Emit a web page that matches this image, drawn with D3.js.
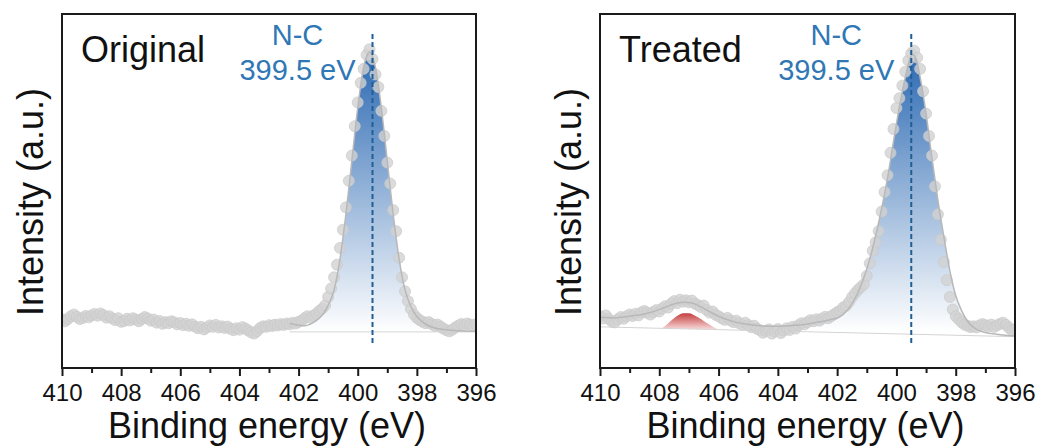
<!DOCTYPE html>
<html>
<head>
<meta charset="utf-8">
<script src="https://cdn.jsdelivr.net/npm/d3@7"></script>
<style>
body { margin: 0; background: #fff; }
text { font-family: "Liberation Sans", Arial, sans-serif; }
</style>
</head>
<body>
<div id="chart"></div>
<script>
// energy grid of the measured points (eV), 410 -> 396
var energyStart = 410, energyStep = 0.1;
var majorTicks = [410, 408, 406, 404, 402, 400, 398, 396];
var minorTicks = [409, 407, 405, 403, 401, 399, 397];

// measured intensities (a.u.), one per 0.1 eV step
var originalCounts = [
  4.5, 3.8, 4.6, 5.6, 6.2, 5.4, 4.6, 5.0, 5.7, 5.2,
  5.9, 6.4, 5.8, 6.6, 6.0, 5.1, 5.6, 4.8, 4.2, 4.9,
  3.6, 3.9, 4.7, 4.1, 4.9, 4.4, 3.8, 4.6, 5.3, 4.8,
  4.0, 4.4, 3.3, 3.9, 2.9, 3.5, 3.1, 3.8, 3.4, 2.7,
  3.2, 2.4, 2.9, 2.2, 2.7, 1.9, 1.3, 1.8, 0.9, 1.6,
  2.3, 1.8, 2.5, 1.6, 2.0, 1.4, 1.9, 1.1, 0.6, 1.3,
  0.8, 1.7, 1.2, 0.5, -0.2, -0.6, 0.3, 1.4, 2.0, 1.8,
  2.4, 2.1, 2.6, 2.3, 2.8, 2.5, 3.0, 2.7, 3.3, 3.0,
  3.6, 4.0, 4.9, 5.6, 5.0, 5.8, 6.5, 7.5, 8.3, 9.5,
  12.5, 15.5, 19.5, 24, 30, 36.5, 44.5, 54, 63, 73.5,
  82, 89, 94, 99, 101, 97.5, 92, 87.5, 79, 70,
  60.5, 53, 43.5, 36, 26.5, 19.5, 14.5, 11, 8.2, 6.2,
  5.0, 4.2, 3.6, 3.1, 3.5, 2.8, 2.2, 2.6, 1.9, 1.2,
  0.6, 0.2, 0.8, 1.6, 2.2, 2.8, 2.4, 3.0, 2.6, 2.2,
  2.7
];

var treatedCounts = [
  5.6, 4.8, 5.9, 4.6, 3.7, 3.4, 4.5, 5.3, 4.7, 5.6,
  6.2, 5.7, 6.5, 5.9, 7.0, 7.5, 6.8, 6.2, 7.1, 7.8,
  7.3, 8.4, 9.2, 8.7, 10.1, 11.0, 10.3, 11.5, 10.8, 11.3,
  10.6, 11.2, 10.1, 9.6, 8.9, 9.4, 7.8, 6.9, 7.3, 6.1,
  5.6, 4.9, 4.3, 5.0, 4.1, 3.5, 4.0, 3.1, 2.6, 3.3,
  2.4, 1.7, 2.2, 1.1, 0.6, -0.3, 0.4, 0.9, -0.6, 0.2,
  1.0, -0.4, 0.5, 1.3, 0.7, 1.8, 1.2, 2.4, 3.1, 2.7,
  3.5, 4.2, 3.8, 4.5, 4.0, 4.8, 5.4, 4.9, 5.6, 6.3,
  7.0, 7.6, 8.7, 9.3, 10.6, 12.4, 13.8, 15.0, 16.0, 17.0,
  20, 24.5, 29, 32, 36, 43, 50, 56, 64, 72.5,
  80, 83.5, 88, 93, 97, 99.5, 100.5, 98, 94, 86,
  78, 70, 63, 52, 42, 33, 25, 18.5, 12.5, 8.0,
  5.6, 4.5, 3.4, 2.6, 2.2, 1.7, 2.0, 1.6, 2.3, 2.8,
  2.4, 1.9, 2.6, 1.8, 2.4, 2.9, 3.3, 2.5, 1.4, 0.6,
  0.9
];

// fitted envelopes [eV, a.u.]
var originalFit = [
  [402.3, 3.0], [402.0, 2.4], [401.8, 2.2], [401.6, 2.8], [401.4, 4.0], [401.2, 6.0],
  [401.0, 9.5], [400.8, 15], [400.6, 26], [400.4, 42], [400.2, 61], [400.0, 80],
  [399.8, 94.5], [399.6, 100], [399.4, 94.5], [399.2, 80], [399.0, 61], [398.8, 42],
  [398.6, 26], [398.4, 15], [398.2, 9], [398.0, 5.5], [397.8, 3.5], [397.6, 2.2],
  [397.2, 1.0], [396.6, 0.4], [396.0, 0.2]
];
var originalBackground = [[402.3, 0], [396, 0]];

var treatedFit = [
  [410, 5.2], [409.5, 5.0], [409, 5.6], [408.5, 6.4], [408.1, 7.6], [407.8, 8.8],
  [407.5, 10.0], [407.2, 10.6], [406.9, 10.3], [406.6, 9.0], [406.3, 7.2], [406.0, 5.6],
  [405.6, 4.0], [405.2, 3.0], [404.7, 2.3], [404.2, 2.0], [403.6, 2.2], [403.0, 2.8],
  [402.6, 3.6], [402.2, 4.4], [401.9, 5.5], [401.6, 8.5], [401.3, 14], [401.0, 22.5],
  [400.8, 30], [400.5, 44], [400.3, 55], [400.1, 68], [399.9, 80.5], [399.7, 91],
  [399.55, 97.5], [399.45, 99], [399.35, 98], [399.2, 91], [399.0, 78], [398.8, 62],
  [398.6, 47], [398.4, 34], [398.2, 22], [398.0, 13], [397.8, 7.5], [397.6, 3.8],
  [397.4, 1.6], [397.2, 0.4], [396.8, -0.6], [396.4, -1.1], [396.0, -1.5]
];
var treatedBackground = [[410, 1.8], [396, -1.7]];
// small high-energy component [eV, low, high]
var treatedRed = [
  [407.95, 1.3, 1.3], [407.8, 1.25, 2.5], [407.6, 1.2, 4.4], [407.4, 1.15, 6.0],
  [407.2, 1.1, 6.9], [407.0, 1.05, 6.9], [406.8, 1.0, 6.1], [406.6, 0.95, 4.9],
  [406.4, 0.9, 3.5], [406.2, 0.85, 2.2], [406.0, 0.8, 1.2], [405.85, 0.75, 0.75]
];

var peakPos = 399.5;
var peakLabel = ["N-C", "399.5 eV"];
var dashRange = [-4, 107];

var width = 1040, height = 448;
var plotTop = 14, plotBottom = 368;
var blue = "#2f77b5";

var svg = d3.select("#chart")
  .append("svg")
    .attr("width", width)
    .attr("height", height);

var y = d3.scaleLinear().domain([-12.9, 113.6]).range([plotBottom, plotTop]);

var defs = svg.append("defs");
defs.append("linearGradient")
    .attr("id", "blue-grad")
    .attr("gradientUnits", "userSpaceOnUse")
    .attr("x1", 0).attr("y1", y(100))
    .attr("x2", 0).attr("y2", y(0))
  .selectAll("stop")
  .data([{offset: "0%", color: "#2a68b2"}, {offset: "100%", color: "#ffffff"}])
  .enter().append("stop")
    .attr("offset", function(d) { return d.offset; })
    .attr("stop-color", function(d) { return d.color; });

defs.append("linearGradient")
    .attr("id", "red-grad")
    .attr("gradientUnits", "userSpaceOnUse")
    .attr("x1", 0).attr("y1", y(7))
    .attr("x2", 0).attr("y2", y(1))
  .selectAll("stop")
  .data([{offset: "0%", color: "#c23636"}, {offset: "100%", color: "#f7d6d6"}])
  .enter().append("stop")
    .attr("offset", function(d) { return d.offset; })
    .attr("stop-color", function(d) { return d.color; });

function toPoints(counts) {
  return counts.map(function(v, i) { return [+(energyStart - i * energyStep).toFixed(1), v]; });
}

function drawPanel(x0, x1, label, counts, fit, background, peakFrom, red) {
  var g = svg.append("g");
  var x = d3.scaleLinear().domain([410, 396]).range([x0, x1]);
  var bg = d3.scaleLinear()
    .domain(background.map(function(d) { return d[0]; }))
    .range(background.map(function(d) { return d[1]; }));

  var clipId = "clip" + x0;
  g.append("clipPath").attr("id", clipId)
    .append("rect")
      .attr("x", x0).attr("y", plotTop)
      .attr("width", x1 - x0).attr("height", plotBottom - plotTop);

  var plot = g.append("g").attr("clip-path", "url(#" + clipId + ")");

  // main N-C component
  var peak = fit.filter(function(d) { return d[0] <= peakFrom; });
  plot.append("path")
    .datum(peak)
    .attr("fill", "url(#blue-grad)")
    .attr("d", d3.area()
      .curve(d3.curveMonotoneX)
      .x(function(d) { return x(d[0]); })
      .y0(function(d) { return y(bg(d[0])); })
      .y1(function(d) { return y(d[1]); }));

  if (red) {
    plot.append("path")
      .datum(red)
      .attr("fill", "url(#red-grad)")
      .attr("d", d3.area()
        .curve(d3.curveMonotoneX)
        .x(function(d) { return x(d[0]); })
        .y0(function(d) { return y(d[1]); })
        .y1(function(d) { return y(d[2]); }));
    plot.append("path")
      .datum(red)
      .attr("fill", "none")
      .attr("stroke", "#ffffff")
      .attr("stroke-width", 1.5)
      .attr("d", d3.line()
        .curve(d3.curveMonotoneX)
        .x(function(d) { return x(d[0]); })
        .y(function(d) { return y(d[2]); }));
  }

  // background line
  plot.append("path")
    .datum(background)
    .attr("fill", "none")
    .attr("stroke", "#d4d4d4")
    .attr("stroke-width", 1)
    .attr("d", d3.line()
      .x(function(d) { return x(d[0]); })
      .y(function(d) { return y(d[1]); }));

  // measured points
  plot.selectAll(".pt")
    .data(toPoints(counts))
    .enter().append("circle")
      .attr("class", "pt")
      .attr("cx", function(d) { return x(d[0]); })
      .attr("cy", function(d) { return y(d[1]); })
      .attr("r", 5.5)
      .attr("fill", "#d2d2d2")
      .attr("fill-opacity", 0.8)
      .attr("stroke", "#c9c9c9")
      .attr("stroke-opacity", 0.7)
      .attr("stroke-width", 1);

  // envelope
  plot.append("path")
    .datum(fit)
    .attr("fill", "none")
    .attr("stroke", "#b8b8b8")
    .attr("stroke-width", 1.5)
    .attr("d", d3.line()
      .curve(d3.curveMonotoneX)
      .x(function(d) { return x(d[0]); })
      .y(function(d) { return y(d[1]); }));

  // peak position marker
  g.append("line")
    .attr("x1", x(peakPos)).attr("x2", x(peakPos))
    .attr("y1", y(dashRange[0])).attr("y2", y(dashRange[1]))
    .attr("stroke", "#1f5f94")
    .attr("stroke-width", 2)
    .attr("stroke-dasharray", "5,3");

  g.append("text")
    .text(peakLabel[0])
    .attr("x", x(peakPos) - 75)
    .attr("y", 45)
    .attr("text-anchor", "middle")
    .style("font-size", "29px")
    .style("fill", blue);
  g.append("text")
    .text(peakLabel[1])
    .attr("x", x(peakPos) - 75)
    .attr("y", 80)
    .attr("text-anchor", "middle")
    .style("font-size", "29px")
    .style("fill", blue);

  g.append("text")
    .text(label)
    .attr("x", x0 + 19)
    .attr("y", 62)
    .style("font-size", "36px")
    .style("fill", "#111");

  // frame
  g.append("rect")
    .attr("x", x0).attr("y", plotTop)
    .attr("width", x1 - x0).attr("height", plotBottom - plotTop)
    .attr("fill", "none")
    .attr("stroke", "#1a1a1a")
    .attr("stroke-width", 2);

  // axes
  var ax = g.append("g")
    .attr("transform", "translate(0," + plotBottom + ")")
    .call(d3.axisBottom(x).tickValues(majorTicks).tickSize(8).tickPadding(8).tickFormat(d3.format("d")));
  ax.select(".domain").remove();
  ax.selectAll("line").attr("stroke", "#1a1a1a").attr("stroke-width", 2);
  ax.selectAll("text").style("font-size", "24px").attr("fill", "#111")
    .style("font-family", "'Liberation Sans', Arial, sans-serif");

  var mx = g.append("g")
    .attr("transform", "translate(0," + plotBottom + ")")
    .call(d3.axisBottom(x).tickValues(minorTicks).tickSize(5).tickFormat(""));
  mx.select(".domain").remove();
  mx.selectAll("line").attr("stroke", "#1a1a1a").attr("stroke-width", 2);

  g.append("text")
    .text("Binding energy (eV)")
    .attr("x", (x0 + x1) / 2 - 2)
    .attr("y", 438)
    .attr("text-anchor", "middle")
    .style("font-size", "36px")
    .style("fill", "#111");

  g.append("text")
    .text("Intensity (a.u.)")
    .attr("transform", "translate(" + (x0 - 19) + ",202) rotate(-90)")
    .attr("text-anchor", "middle")
    .style("font-size", "36px")
    .style("fill", "#111");
}

drawPanel(62, 476, "Original", originalCounts, originalFit, originalBackground, 402.3, null);
drawPanel(600, 1015, "Treated", treatedCounts, treatedFit, treatedBackground, 402.6, treatedRed);
</script>
</body>
</html>
